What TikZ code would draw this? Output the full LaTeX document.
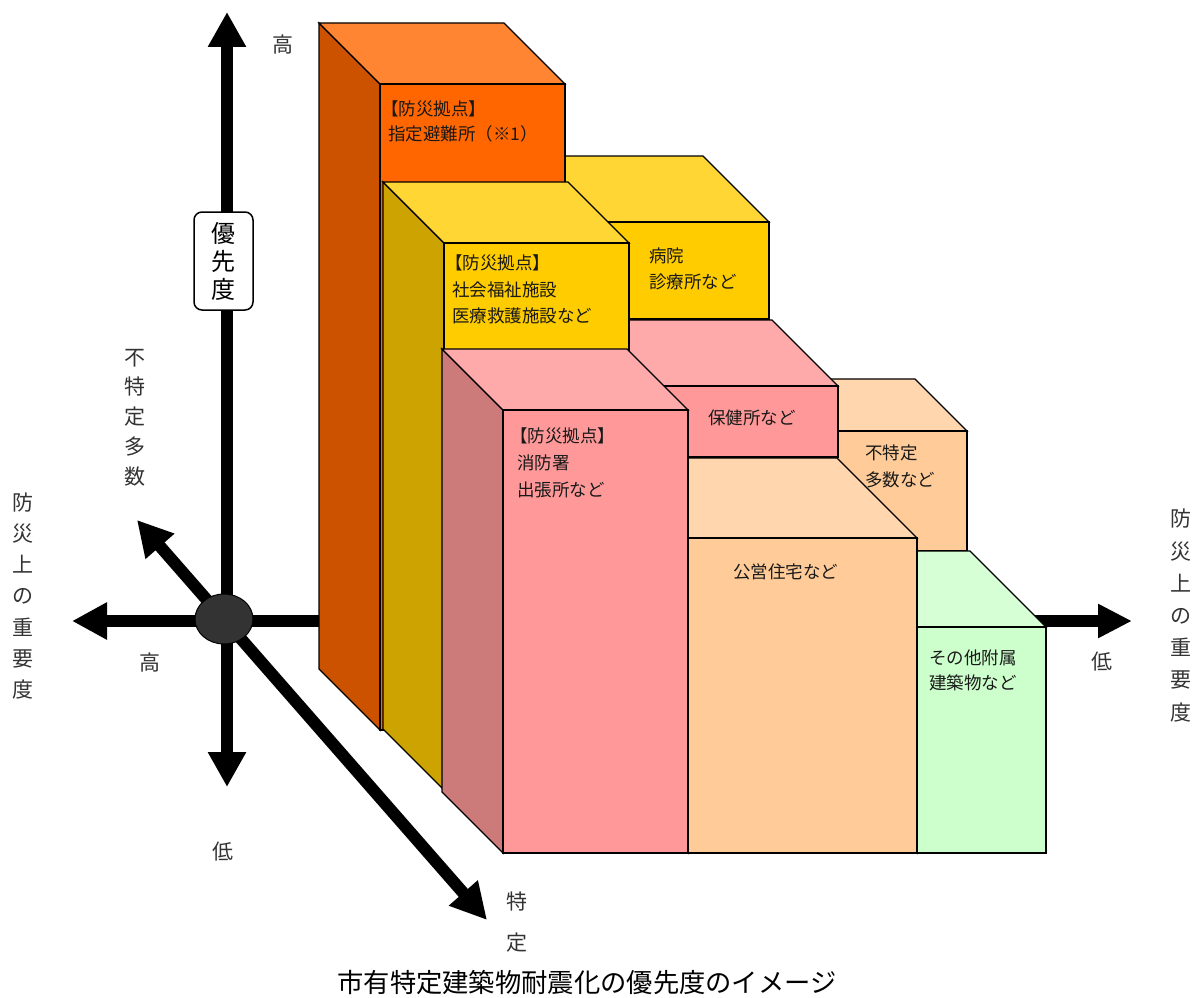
\documentclass[tikz,border=0pt]{standalone}
\usepackage{fontspec}
\setmainfont{Noto Sans CJK JP}
\usetikzlibrary{arrows.meta,shapes.geometric}
\definecolor{orTop}{HTML}{FF8533}
\definecolor{orFront}{HTML}{FF6600}
\definecolor{orSide}{HTML}{CC5200}
\definecolor{yeTop}{HTML}{FFD633}
\definecolor{yeFront}{HTML}{FFCC00}
\definecolor{yeSide}{HTML}{CCA300}
\definecolor{piTop}{HTML}{FFAAAA}
\definecolor{piFront}{HTML}{FF9999}
\definecolor{piSide}{HTML}{CC7A7A}
\definecolor{peTop}{HTML}{FFD6AD}
\definecolor{peFront}{HTML}{FFCC99}
\definecolor{grTop}{HTML}{D6FFD6}
\definecolor{grFront}{HTML}{CCFFCC}
\definecolor{hubgray}{HTML}{333333}
\definecolor{labgray}{HTML}{333333}
\newcommand\drawblock[8]{%
  \filldraw[blk,fill=#8] (#1-#5,#3-#5) -- (#1,#3) -- (#1,#4) -- (#1-#5,#4-#5) -- cycle;
  \filldraw[blk,fill=#6] (#1-#5,#3-#5) -- (#2-#5,#3-#5) -- (#2,#3) -- (#1,#3) -- cycle;
  \filldraw[blk,fill=#7] (#1,#3) rectangle (#2,#4);
}
\begin{document}
\begin{tikzpicture}[x=1pt,y=-1pt,
  blk/.style={draw=black,line width=1.4pt,line join=miter},
  axisline/.style={draw=black,line width=12pt},
  boxlabel/.style={anchor=west,align=left,inner sep=0pt,text=black!90},
  axlabel/.style={inner sep=0pt,text=labgray,align=center,font=\fontsize{21}{21}\selectfont}]
\useasboundingbox (0,0) rectangle (1202,998);
% axes
\coordinate (up) at (227,12);
\coordinate (down) at (227,787);
\coordinate (lefttip) at (72,621);
\coordinate (righttip) at (1132,621);
\coordinate (nw) at (137,520);
\coordinate (se) at (487,920);
\draw[axisline,{Triangle[length=35pt,width=36pt]}-{Triangle[length=35pt,width=36pt]}] (down) -- (up);
\draw[axisline,{Triangle[length=35pt,width=35pt]}-{Triangle[length=34pt,width=32pt]}] (lefttip) -- (righttip);
\draw[axisline,{Triangle[length=35pt,width=36pt]}-{Triangle[length=36pt,width=36pt]}] (nw) -- (se);
\node[ellipse,draw=black,line width=1pt,fill=hubgray,minimum width=58pt,minimum height=50pt,inner sep=0pt] (hub) at (224,619) {};
% priority box
\node[draw=black,line width=1.5pt,fill=white,rounded corners=8pt,minimum width=59pt,minimum height=98pt,align=center,inner sep=0pt,font=\fontsize{24}{28}\selectfont] (prio) at (223.5,261) {優\\先\\度};
% axis labels
\node[axlabel] (hightop) at (283,45) {高};
\node[axlabel,font=\fontsize{21}{29.75}\selectfont] (fuku) at (135,417.5) {不\\特\\定\\多\\数};
\node[axlabel,font=\fontsize{21}{31.3}\selectfont] (bousaiL) at (23,596) {防\\災\\上\\の\\重\\要\\度};
\node[axlabel,font=\fontsize{21}{32.2}\selectfont] (bousaiR) at (1181,615.5) {防\\災\\上\\の\\重\\要\\度};
\node[axlabel] (highleft) at (150,663) {高};
\node[axlabel] (lowbottom) at (223,852) {低};
\node[axlabel] (lowright) at (1102,662) {低};
\node[axlabel,font=\fontsize{21}{41}\selectfont] (tokutei) at (517,922.5) {特\\定};
% blocks: right column, then middle column, then left column
\drawblock{830}{967}{431}{551}{52}{peTop}{peFront}{peFront}
\drawblock{917}{1046}{627}{853}{76}{grTop}{grFront}{grFront}
\drawblock{566}{769}{222}{319}{66}{yeTop}{yeFront}{yeFront}
\drawblock{600}{838}{386}{457}{66}{piTop}{piFront}{piFront}
\drawblock{688}{917}{538}{853}{80}{peTop}{peFront}{peFront}
\drawblock{380}{565}{84}{730}{61}{orTop}{orFront}{orSide}
\drawblock{444}{629}{243}{790}{61}{yeTop}{yeFront}{yeSide}
\drawblock{503}{688}{410}{853}{61}{piTop}{piFront}{piSide}
% block labels
\node[boxlabel,font=\fontsize{17.5}{25}\selectfont] (labA) at (388,121.5) {\hspace*{-0.4em}【防災拠点】\\指定避難所（※1）};
\node[boxlabel,font=\fontsize{17.5}{26.5}\selectfont] (labB) at (452,289.5) {\hspace*{-0.4em}【防災拠点】\\社会福祉施設\\医療救護施設など};
\node[boxlabel,font=\fontsize{17.5}{26}\selectfont] (labH) at (649,269) {病院\\診療所など};
\node[boxlabel,font=\fontsize{17.5}{27}\selectfont] (labC) at (517,463) {\hspace*{-0.4em}【防災拠点】\\消防署\\出張所など};
\node[boxlabel,font=\fontsize{17.5}{17.5}\selectfont] (labK) at (708,418) {保健所など};
\node[boxlabel,font=\fontsize{17.5}{27}\selectfont] (labF) at (865,466.5) {不特定\\多数など};
\node[boxlabel,font=\fontsize{17.5}{17.5}\selectfont] (labJ) at (733,572) {公営住宅など};
\node[boxlabel,font=\fontsize{17.5}{25}\selectfont] (labG) at (929,670.5) {その他附属\\建築物など};
% title
\node[inner sep=0pt,font=\fontsize{26.3}{26.3}\selectfont] (title) at (587,982) {市有特定建築物耐震化の優先度のイメージ};
\end{tikzpicture}
\end{document}
